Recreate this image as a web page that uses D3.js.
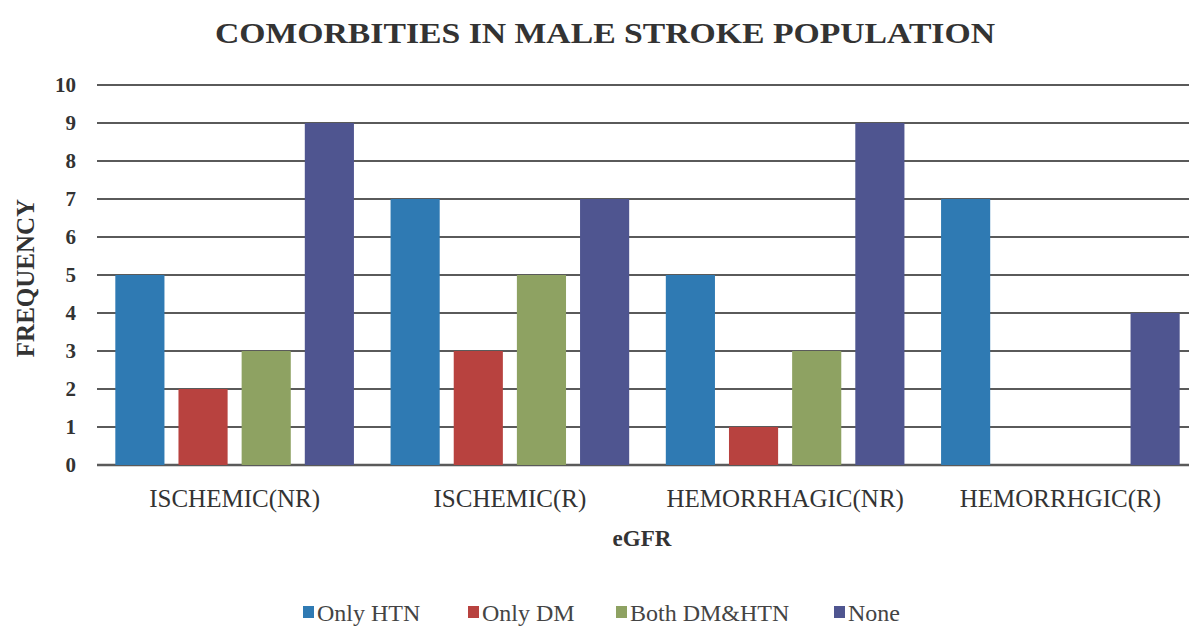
<!DOCTYPE html>
<html><head><meta charset="utf-8">
<script src="https://cdn.jsdelivr.net/npm/d3@7"></script>
<style>body{margin:0;background:#fff;} svg{display:block;}</style>
</head><body>
<svg id="c" width="1189" height="635"></svg>
<script>
const categories = ["ISCHEMIC(NR)", "ISCHEMIC(R)", "HEMORRHAGIC(NR)", "HEMORRHGIC(R)"];
const seriesNames = ["Only HTN", "Only DM", "Both DM&HTN", "None"];
const onlyHTN = [5, 7, 5, 7];
const onlyDM = [2, 3, 1, 0];
const bothDMHTN = [3, 5, 3, 0];
const none = [9, 7, 9, 4];
const yTicks = [0,1,2,3,4,5,6,7,8,9,10];
const colors = ["#2f7ab3", "#b8423f", "#8ea262", "#4f5590"];

const seriesValues = [onlyHTN, onlyDM, bothDMHTN, none];
const svg = d3.select("#c");
const font = "'Liberation Serif','DejaVu Serif',serif";

const x0 = d3.scaleBand().domain(categories).range([97, 1198]).paddingInner(0).paddingOuter(0);
const x1 = d3.scaleBand().domain(seriesNames).range([0, x0.bandwidth()]).paddingInner(0.222).paddingOuter(0.29);
const y = d3.scaleLinear().domain([0, 10]).range([465, 85]);

// gridlines
svg.append("g").selectAll("line").data(yTicks).join("line")
  .attr("x1", 97).attr("x2", 1189)
  .attr("y1", d => y(d)).attr("y2", d => y(d))
  .attr("stroke", "#5a5a5a").attr("stroke-width", d => d === 0 ? 2.5 : 1.8);

// y axis labels
const yAxis = d3.axisLeft(y).tickValues(yTicks).tickSize(0).tickPadding(0);
const ga = svg.append("g").attr("transform", "translate(76,0)").call(yAxis);
ga.select(".domain").remove();
ga.selectAll("text").attr("font-family", font).attr("font-weight", "bold")
  .attr("font-size", 21).attr("fill", "#333");

// bars
const groups = svg.append("g").selectAll("g").data(categories).join("g")
  .attr("transform", d => `translate(${x0(d)},0)`);
groups.selectAll("rect").data((c, i) => seriesNames.map((s, k) => ({s, k, v: seriesValues[k][i]})))
  .join("rect")
  .attr("x", d => x1(d.s)).attr("width", x1.bandwidth())
  .attr("y", d => y(d.v)).attr("height", d => y(0) - y(d.v))
  .attr("fill", d => colors[d.k]);

// x axis labels
const xAxis = d3.axisBottom(x0).tickSize(0).tickPadding(0);
const gx = svg.append("g").attr("transform", "translate(0,499)").call(xAxis);
gx.select(".domain").remove();
gx.selectAll("text").attr("font-family", font).attr("font-size", 25).attr("fill", "#333").attr("dy", "0.3em");

// axis titles
svg.append("text").attr("x", 642).attr("y", 546).attr("text-anchor", "middle")
  .attr("font-family", font).attr("font-weight", "bold").attr("font-size", 23).attr("fill", "#333").text("eGFR");
svg.append("text").attr("transform", "translate(34,278) rotate(-90)").attr("text-anchor", "middle")
  .attr("font-family", font).attr("font-weight", "bold").attr("font-size", 25).attr("fill", "#333").text("FREQUENCY");

// title
svg.append("text").attr("x", 605).attr("y", 43).attr("text-anchor", "middle")
  .attr("font-family", font).attr("font-weight", "bold").attr("font-size", 29).attr("fill", "#333")
  .attr("textLength", 780).attr("lengthAdjust", "spacingAndGlyphs")
  .text("COMORBITIES IN MALE STROKE POPULATION");

// legend
const legX = [303, 468, 616, 834];
const leg = svg.append("g").selectAll("g").data(seriesNames).join("g")
  .attr("transform", (d, i) => `translate(${legX[i]},613)`);
leg.append("rect").attr("x", 0).attr("y", -7).attr("width", 11).attr("height", 12).attr("fill", (d, i) => colors[i]);
leg.append("text").attr("x", 14).attr("y", 0).attr("dy", "0.35em")
  .attr("font-family", font).attr("font-size", 24).attr("fill", "#444").text(d => d);
</script>
</body></html>
